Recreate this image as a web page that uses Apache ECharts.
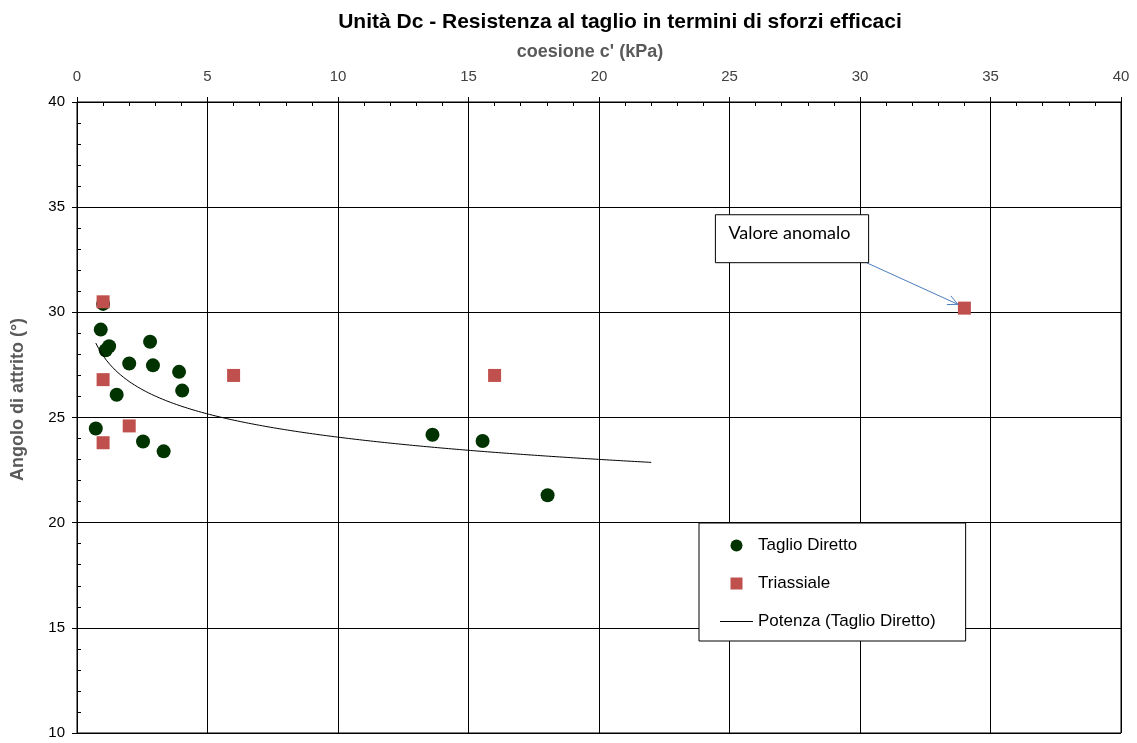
<!DOCTYPE html>
<html>
<head>
<meta charset="utf-8">
<script src="https://cdn.jsdelivr.net/npm/echarts@6/dist/echarts.min.js"></script>
<style>
html,body{margin:0;padding:0;background:#fff;}
#c{width:1137px;height:743px;}
</style>
</head>
<body>
<div id="c"></div>
<script>
// ---- data ----
const titleText = 'Unità Dc - Resistenza al taglio in termini di sforzi efficaci';
const xAxisName = "coesione c' (kPa)";
const yAxisName = 'Angolo di attrito (°)';
const seriesNames = ['Taglio Diretto', 'Triassiale', 'Potenza (Taglio Diretto)'];

const taglioX = [1.0, 0.91, 1.23, 1.1, 2.8, 2.0, 2.91, 3.91, 4.03, 1.52, 0.72, 2.53, 3.32, 13.62, 15.54, 18.03];
const taglioY = [30.4, 29.18, 28.39, 28.2, 28.6, 27.57, 27.48, 27.17, 26.28, 26.08, 24.48, 23.86, 23.39, 24.18, 23.88, 21.3];

const triaxX = [1.0, 1.0, 2.0, 1.0, 6.0, 16.0, 34.0];
const triaxY = [30.5, 26.8, 24.6, 23.8, 27.0, 27.0, 30.2];

const trendEndX = 22;           // trendline forecast end
const annotationText = 'Valore anomalo';

// ---- layout / style config (not data) ----
const annBox = {x0: 24.46, x1: 30.33, y0: 34.64, y1: 32.36};
const annArrow = {from: [30.25, 32.36], to: [33.75, 30.38]};

// power regression on Taglio Diretto: ln y = ln a + b ln x
function powerFit(xs, ys) {
  const n = xs.length;
  let sx = 0, sy = 0, sxx = 0, sxy = 0;
  for (let i = 0; i < n; i++) {
    const lx = Math.log(xs[i]), ly = Math.log(ys[i]);
    sx += lx; sy += ly; sxx += lx * lx; sxy += lx * ly;
  }
  const b = (n * sxy - sx * sy) / (n * sxx - sx * sx);
  const a = Math.exp((sy - b * sx) / n);
  return {a, b};
}
const fit = powerFit(taglioX, taglioY);
const xMin = Math.min.apply(null, taglioX);
const trendData = [];
for (let i = 0; i <= 200; i++) {
  const x = xMin + (trendEndX - xMin) * i / 200;
  trendData.push([x, fit.a * Math.pow(x, fit.b)]);
}

const chart = echarts.init(document.getElementById('c'), null, {renderer: 'canvas'});
const FONT = 'Liberation Sans';

const option = {
  backgroundColor: '#fff',
  animation: false,
  title: {
    text: titleText,
    left: 615, top: 7, textAlign: 'center',
    textStyle: {fontFamily: FONT, fontSize: 21, fontWeight: 'bold', color: '#000'}
  },
  grid: {left: 77, right: 16, top: 102, bottom: 10, show: true, borderColor: '#000', borderWidth: 1},
  xAxis: [{
    type: 'value', position: 'top', min: 0, max: 40, interval: 5,
    name: xAxisName, nameLocation: 'middle', nameGap: 41,
    nameTextStyle: {fontFamily: FONT, fontSize: 18, fontWeight: 'bold', color: '#595959', padding: [0, 18, 0, 0]},
    axisLine: {show: true, lineStyle: {color: '#000', width: 1}},
    axisTick: {show: true, length: 5, lineStyle: {color: '#000'}},
    axisLabel: {fontFamily: FONT, fontSize: 15, color: '#404040', margin: 18},
    splitLine: {show: true, lineStyle: {color: '#000', width: 1}}
  }, {
    type: 'value', position: 'top', min: 0, max: 40, interval: 5,
    axisLine: {show: false}, axisLabel: {show: false}, splitLine: {show: false},
    axisTick: {show: true, inside: true, length: 4, lineStyle: {color: '#000', opacity: 0}},
    minorTick: {show: true, splitNumber: 5, length: 4, lineStyle: {color: '#000', opacity: 1}}
  }],
  yAxis: [{
    type: 'value', min: 10, max: 40, interval: 5,
    name: yAxisName, nameLocation: 'middle', nameGap: 50, nameRotate: 90,
    nameTextStyle: {fontFamily: FONT, fontSize: 18, fontWeight: 'bold', color: '#595959', padding: [0, 0, 0, 36]},
    axisLine: {show: true, lineStyle: {color: '#000', width: 1}},
    axisTick: {show: true, length: 5, lineStyle: {color: '#000'}},
    axisLabel: {fontFamily: FONT, fontSize: 15, color: '#000', margin: 12},
    splitLine: {show: true, lineStyle: {color: '#000', width: 1}}
  }, {
    type: 'value', position: 'left', min: 10, max: 40, interval: 5,
    axisLine: {show: false}, axisLabel: {show: false}, splitLine: {show: false},
    axisTick: {show: true, inside: true, length: 4, lineStyle: {color: '#000', opacity: 0}},
    minorTick: {show: true, splitNumber: 5, length: 4, lineStyle: {color: '#000', opacity: 1}}
  }],
  legend: {
    orient: 'vertical', left: 699, top: 523,
    padding: [14, 30, 11, 21], itemGap: 21,
    itemWidth: 33, itemHeight: 12,
    backgroundColor: '#fff', borderColor: '#000', borderWidth: 1,
    textStyle: {fontFamily: FONT, fontSize: 17, color: '#000'},
    data: [
      {name: seriesNames[0], icon: 'circle'},
      {name: seriesNames[1], icon: 'path://M0,0H10V10H0Z'},
      {name: seriesNames[2], icon: 'path://M0,0H33V1.2H0Z'}
    ]
  },
  series: [{
    name: seriesNames[0], type: 'scatter',
    data: taglioX.map((x, i) => [x, taglioY[i]]),
    symbol: 'circle', symbolSize: 14,
    itemStyle: {color: '#003300', opacity: 1}, z: 3
  }, {
    name: seriesNames[1], type: 'scatter',
    data: triaxX.map((x, i) => [x, triaxY[i]]),
    symbol: 'rect', symbolSize: 13,
    itemStyle: {color: '#c0504d', opacity: 1}, z: 4
  }, {
    name: seriesNames[2], type: 'line',
    data: trendData, symbol: 'none', showSymbol: false, smooth: false,
    lineStyle: {color: '#000', width: 1}, itemStyle: {color: '#000'}, z: 5
  }]
};
chart.setOption(option);

function px(pt) { return chart.convertToPixel({xAxisIndex: 0, yAxisIndex: 0}, pt); }
const p0 = px([annBox.x0, annBox.y0]);
const p1 = px([annBox.x1, annBox.y1]);
const a0 = px(annArrow.from);
const a1 = px(annArrow.to);
const ang = Math.atan2(a1[1] - a0[1], a1[0] - a0[0]);
const headLen = 11, headAng = 0.45;
const h1 = [a1[0] - headLen * Math.cos(ang - headAng), a1[1] - headLen * Math.sin(ang - headAng)];
const h2 = [a1[0] - headLen * Math.cos(ang + headAng), a1[1] - headLen * Math.sin(ang + headAng)];

chart.setOption({
  graphic: [{
    type: 'line', z: 100,
    shape: {x1: a0[0], y1: a0[1], x2: a1[0], y2: a1[1]},
    style: {stroke: '#4a7ebb', lineWidth: 1}
  }, {
    type: 'polyline', z: 100,
    shape: {points: [h1, a1, h2]},
    style: {stroke: '#4a7ebb', lineWidth: 1, fill: null}
  }, {
    type: 'rect', z: 101,
    shape: {x: p0[0], y: p0[1], width: p1[0] - p0[0], height: p1[1] - p0[1]},
    style: {fill: '#fff', stroke: '#000', lineWidth: 1}
  }, {
    type: 'text', z: 102,
    x: p0[0] + 13, y: p0[1] + 9,
    style: {text: annotationText, fontFamily: 'Lato', fontSize: 18, fill: '#000'}
  }]
});
</script>
</body>
</html>
